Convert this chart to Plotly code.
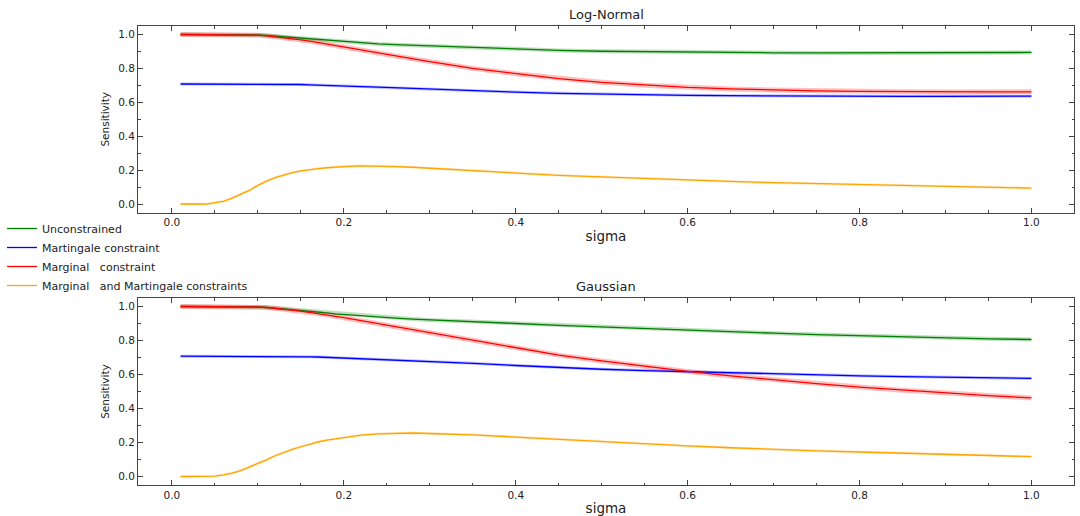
import plotly.graph_objects as go

sigma = [0.01, 0.02, 0.03, 0.04, 0.05, 0.06, 0.07, 0.08, 0.09, 0.10,
         0.11, 0.12, 0.13, 0.14, 0.15, 0.16, 0.17, 0.18, 0.19, 0.20,
         0.22, 0.24, 0.26, 0.28, 0.30, 0.35, 0.40, 0.45, 0.50, 0.55,
         0.60, 0.65, 0.70, 0.75, 0.80, 0.85, 0.90, 0.95, 1.00]

# Log-Normal panel
ln_unconstrained = [1.0, 1.0, 1.0, 1.0, 1.0, 1.0, 1.0, 1.0, 0.999, 0.997,
                    0.994, 0.990, 0.986, 0.982, 0.978, 0.974, 0.970, 0.965, 0.960, 0.956,
                    0.949, 0.944, 0.940, 0.936, 0.932, 0.922, 0.912, 0.906, 0.901, 0.898,
                    0.895, 0.893, 0.892, 0.891, 0.891, 0.891, 0.892, 0.893, 0.894]
ln_martingale = [0.708, 0.708, 0.708, 0.708, 0.708, 0.708, 0.708, 0.708, 0.708, 0.708,
                 0.708, 0.708, 0.707, 0.706, 0.705, 0.703, 0.702, 0.700, 0.699, 0.697,
                 0.693, 0.689, 0.685, 0.681, 0.677, 0.668, 0.660, 0.653, 0.648, 0.644,
                 0.641, 0.639, 0.637, 0.636, 0.635, 0.635, 0.635, 0.635, 0.636]
ln_marginal = [1.0, 1.0, 1.0, 1.0, 1.0, 1.0, 1.0, 1.0, 0.999, 0.996,
               0.992, 0.987, 0.981, 0.975, 0.968, 0.961, 0.953, 0.945, 0.936, 0.927,
               0.909, 0.891, 0.873, 0.857, 0.840, 0.800, 0.768, 0.740, 0.718, 0.701,
               0.688, 0.679, 0.672, 0.667, 0.664, 0.662, 0.661, 0.661, 0.662]
ln_both = [0.0, 0.0, 0.0, 0.0, 0.008, 0.016, 0.035, 0.058, 0.080, 0.110,
           0.135, 0.155, 0.170, 0.185, 0.195, 0.203, 0.209, 0.214, 0.218, 0.221,
           0.225, 0.224, 0.221, 0.217, 0.211, 0.197, 0.183, 0.169, 0.160, 0.150,
           0.142, 0.133, 0.126, 0.120, 0.114, 0.108, 0.103, 0.098, 0.094]

# Gaussian panel
g_unconstrained = [1.0, 1.0, 1.0, 1.0, 1.0, 1.0, 1.0, 1.0, 0.999, 0.997,
                   0.994, 0.990, 0.986, 0.981, 0.977, 0.972, 0.967, 0.962, 0.957, 0.953,
                   0.945, 0.938, 0.932, 0.926, 0.921, 0.911, 0.900, 0.889, 0.879, 0.870,
                   0.861, 0.852, 0.843, 0.835, 0.828, 0.821, 0.815, 0.810, 0.806]
g_martingale = [0.708, 0.708, 0.708, 0.708, 0.708, 0.708, 0.708, 0.708, 0.708, 0.708,
                0.708, 0.708, 0.707, 0.706, 0.705, 0.704, 0.703, 0.701, 0.699, 0.697,
                0.694, 0.690, 0.686, 0.682, 0.678, 0.666, 0.653, 0.640, 0.631, 0.623,
                0.616, 0.609, 0.603, 0.597, 0.592, 0.588, 0.584, 0.580, 0.577]
g_marginal = [1.0, 1.0, 1.0, 1.0, 1.0, 1.0, 1.0, 1.0, 0.999, 0.997,
              0.994, 0.990, 0.985, 0.979, 0.973, 0.966, 0.959, 0.951, 0.943, 0.935,
              0.917, 0.899, 0.881, 0.863, 0.846, 0.800, 0.756, 0.714, 0.680, 0.648,
              0.618, 0.592, 0.568, 0.546, 0.526, 0.508, 0.491, 0.476, 0.462]
g_both = [0.0, 0.0, 0.0, 0.0, 0.002, 0.010, 0.020, 0.035, 0.055, 0.075,
          0.098, 0.122, 0.142, 0.160, 0.175, 0.190, 0.203, 0.214, 0.222, 0.230,
          0.243, 0.251, 0.255, 0.256, 0.253, 0.245, 0.232, 0.218, 0.205, 0.192,
          0.180, 0.169, 0.159, 0.151, 0.144, 0.137, 0.130, 0.123, 0.117]

names = ["Unconstrained", "Martingale constraint",
         "Marginal\u00a0\u00a0 constraint",
         "Marginal\u00a0\u00a0 and Martingale constraints"]
colors = ["green", "blue", "red", "orange"]
band_rgba = ["rgba(0,128,0,0.25)", "rgba(0,0,255,0.25)",
             "rgba(255,0,0,0.25)", "rgba(255,165,0,0.25)"]
band_w = [4, 3, 5, 2.5]

panels = [
    ("x", "y", [ln_unconstrained, ln_martingale, ln_marginal, ln_both]),
    ("x2", "y2", [g_unconstrained, g_martingale, g_marginal, g_both]),
]

fig = go.Figure()
for pi, (xa, ya, series) in enumerate(panels):
    for si, vals in enumerate(series):
        fig.add_trace(go.Scatter(x=sigma, y=vals, xaxis=xa, yaxis=ya, mode="lines",
                                 line=dict(color=band_rgba[si], width=band_w[si]),
                                 showlegend=False, hoverinfo="skip"))
    for si, vals in enumerate(series):
        fig.add_trace(go.Scatter(x=sigma, y=vals, xaxis=xa, yaxis=ya, mode="lines",
                                 name=names[si],
                                 line=dict(color=colors[si], width=1.3),
                                 showlegend=(pi == 0)))

font_family = "DejaVu Sans"
spine = "#444444"

def xaxis_cfg(domain_anchor):
    return dict(range=[-0.0395, 1.0495], anchor=domain_anchor, automargin=False,
                tickmode="array", tickvals=[0, 0.2, 0.4, 0.6, 0.8, 1.0],
                ticktext=["0.0", "0.2", "0.4", "0.6", "0.8", "1.0"],
                ticks="inside", ticklen=5, tickcolor=spine, tickwidth=1,
                minor=dict(ticks="inside", ticklen=2.5, dtick=0.05, tick0=0,
                           tickcolor=spine, tickwidth=0.8),
                showline=True, linecolor=spine, linewidth=1, mirror="ticks",
                showgrid=False, zeroline=False,
                tickfont=dict(size=10.5, color="#222", family=font_family),
                title=dict(text="sigma", font=dict(size=13.5, color="#222", family=font_family),
                           standoff=4))

def yaxis_cfg(domain, anchor):
    return dict(range=[-0.05, 1.05], domain=domain, anchor=anchor, automargin=False,
                tickmode="array", tickvals=[0, 0.2, 0.4, 0.6, 0.8, 1.0],
                ticktext=["0.0", "0.2", "0.4", "0.6", "0.8", "1.0"],
                ticks="inside", ticklen=5, tickcolor=spine, tickwidth=1,
                minor=dict(ticks="inside", ticklen=2.5, dtick=0.1, tick0=0,
                           tickcolor=spine, tickwidth=0.8),
                showline=True, linecolor=spine, linewidth=1, mirror="ticks",
                showgrid=False, zeroline=False,
                tickfont=dict(size=10.5, color="#222", family=font_family),
                title=dict(text="Sensitivity", font=dict(size=10.5, color="#222", family=font_family),
                           standoff=6))

H = 516
W = 1080
l, r = 138, 6
t, b = 26, 31
ph = H - t - b
pw = W - l - r
top_dom = [(H - b - 212.5) / ph, 1.0]
bot_dom = [0.0, (H - b - 298) / ph]

fig.update_layout(
    width=W, height=H,
    margin=dict(l=l, r=r, t=t, b=b, autoexpand=False),
    paper_bgcolor="white", plot_bgcolor="white",
    font=dict(family=font_family, color="#222"),
    xaxis=xaxis_cfg("y"),
    yaxis=yaxis_cfg(top_dom, "x"),
    xaxis2=xaxis_cfg("y2"),
    yaxis2=yaxis_cfg(bot_dom, "x2"),
    legend=dict(x=(2 - l) / pw, xanchor="left", y=(H - b - 214) / ph, yanchor="top",
                font=dict(size=11, color="#222", family=font_family),
                bgcolor="rgba(0,0,0,0)", tracegroupgap=0, itemwidth=30),
    annotations=[
        dict(text="Log-Normal", x=0.5, xref="paper", y=1.0, yref="paper",
             yanchor="bottom", yshift=2,
             showarrow=False, font=dict(size=13, color="#222", family=font_family)),
        dict(text="Gaussian", x=0.5, xref="paper", y=bot_dom[1], yref="paper",
             yanchor="bottom", yshift=2,
             showarrow=False, font=dict(size=13, color="#222", family=font_family)),
    ],
)

fig.write_html("out.html", config={"displayModeBar": False},
               post_script="document.body.style.margin='0';document.body.style.overflow='hidden';")
